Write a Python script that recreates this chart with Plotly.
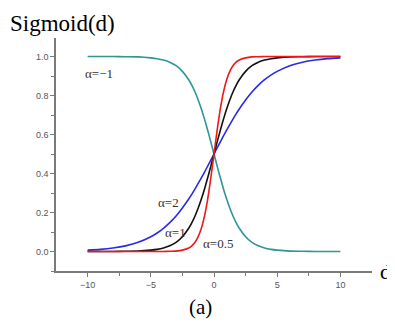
import plotly.graph_objects as go

d = [-10, -9, -8, -7, -6, -5, -4.5, -4, -3.5, -3, -2.5, -2, -1.75, -1.5, -1.25, -1, -0.75, -0.5, -0.25,
     0, 0.25, 0.5, 0.75, 1, 1.25, 1.5, 1.75, 2, 2.5, 3, 3.5, 4, 4.5, 5, 6, 7, 8, 9, 10]

alpha_m1 = [1.000, 1.000, 1.000, 0.999, 0.998, 0.993, 0.989, 0.982, 0.971, 0.953, 0.924, 0.881, 0.852, 0.818,
            0.777, 0.731, 0.679, 0.622, 0.562, 0.500, 0.438, 0.378, 0.321, 0.269, 0.223, 0.182, 0.148, 0.119,
            0.076, 0.047, 0.029, 0.018, 0.011, 0.007, 0.002, 0.001, 0.000, 0.000, 0.000]
alpha_05 = [0.000, 0.000, 0.000, 0.000, 0.000, 0.000, 0.000, 0.000, 0.001, 0.002, 0.007, 0.018, 0.029, 0.047,
            0.076, 0.119, 0.182, 0.269, 0.378, 0.500, 0.622, 0.731, 0.818, 0.881, 0.924, 0.953, 0.971, 0.982,
            0.993, 0.998, 0.999, 1.000, 1.000, 1.000, 1.000, 1.000, 1.000, 1.000, 1.000]
alpha_1 = [0.000, 0.000, 0.000, 0.001, 0.002, 0.007, 0.011, 0.018, 0.029, 0.047, 0.076, 0.119, 0.148, 0.182,
           0.223, 0.269, 0.321, 0.378, 0.438, 0.500, 0.562, 0.622, 0.679, 0.731, 0.777, 0.818, 0.852, 0.881,
           0.924, 0.953, 0.971, 0.982, 0.989, 0.993, 0.998, 0.999, 1.000, 1.000, 1.000]
alpha_2 = [0.007, 0.011, 0.018, 0.029, 0.047, 0.076, 0.095, 0.119, 0.148, 0.182, 0.223, 0.269, 0.294, 0.321,
           0.349, 0.378, 0.407, 0.438, 0.469, 0.500, 0.531, 0.562, 0.593, 0.622, 0.651, 0.679, 0.706, 0.731,
           0.777, 0.818, 0.852, 0.881, 0.905, 0.924, 0.953, 0.971, 0.982, 0.989, 0.993]

series = [
    ("α=-1", alpha_m1, "#2f9595"),
    ("α=2", alpha_2, "#2a2ae6"),
    ("α=1", alpha_1, "#111111"),
    ("α=0.5", alpha_05, "#f01818"),
]

x_ticks = [-10, -5, 0, 5, 10]
y_ticks = [0.0, 0.2, 0.4, 0.6, 0.8, 1.0]
y_tick_text = ["0.0", "0.2", "0.4", "0.6", "0.8", "1.0"]

fig = go.Figure()
for name, vals, col in series:
    fig.add_trace(go.Scatter(x=d, y=vals, mode="lines", name=name,
                             line=dict(color=col, width=1.6, shape="spline", smoothing=0.6)))

serif = "Liberation Serif, Times New Roman, serif"
labels = [
    ("α=−1", -10.35, 0.915, "left"),
    ("α=2", -3.58, 0.25, "center"),
    ("α=1", -3.03, 0.097, "center"),
    ("α=0.5", 0.28, 0.041, "center"),
]
ann = []
for t, xv, yv, xa in labels:
    ann.append(dict(text=t, x=xv, y=yv, xref="x", yref="y", xanchor=xa, yanchor="middle",
                    showarrow=False, font=dict(family=serif, size=13, color="#333333")))
ann.append(dict(text="Sigmoid(d)", x=-0.152, y=1.124, xref="paper", yref="paper", xanchor="left",
                yanchor="top", showarrow=False, font=dict(family=serif, size=23, color="#000000")))
ann.append(dict(text="d", x=1.044, y=0.0, xref="paper", yref="paper", xanchor="center",
                yanchor="middle", showarrow=False, font=dict(family=serif, size=22, color="#000000")))
ann.append(dict(text="(a)", x=0.456, y=-0.155, xref="paper", yref="paper", xanchor="center",
                yanchor="middle", showarrow=False, font=dict(family=serif, size=21, color="#000000")))

axis_common = dict(showline=True, linecolor="#7a7a7a", linewidth=1.6, ticks="outside", ticklen=4,
                   tickwidth=1.2, tickcolor="#7a7a7a", showgrid=False, zeroline=False,
                   tickfont=dict(family="Liberation Sans, Arial, sans-serif", size=9, color="#555555"))

fig.update_layout(
    width=387, height=314,
    margin=dict(l=48, r=23, t=30, b=51),
    paper_bgcolor="white", plot_bgcolor="white",
    showlegend=False,
    annotations=ann,
    xaxis=dict(range=[-12.5, 12.5], tickvals=x_ticks,
               minor=dict(tickvals=[-7.5, -2.5, 2.5, 7.5], ticks="outside", ticklen=3, tickcolor="#7a7a7a"),
               **axis_common),
    yaxis=dict(range=[-0.1, 1.095], tickvals=y_ticks, ticktext=y_tick_text,
               minor=dict(tickvals=[-0.1, 0.1, 0.3, 0.5, 0.7, 0.9], ticks="outside", ticklen=3, tickcolor="#7a7a7a"),
               **axis_common),
)

fig.write_html("out.html")
